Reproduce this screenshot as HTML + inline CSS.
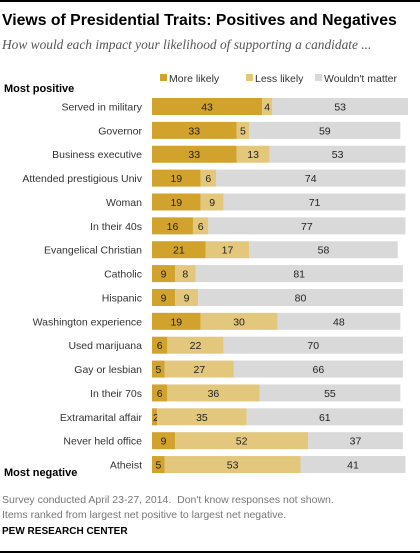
<!DOCTYPE html>
<html><head><meta charset="utf-8"><style>
body{margin:0;width:420px;height:554px;background:#fff;font-family:"Liberation Sans",Arial,sans-serif;position:relative;overflow:hidden}
.a{position:absolute;white-space:nowrap}
</style></head><body>
<div class="a" style="left:0;top:0;width:420px;height:2px;background:#000"></div>
<div class="a" style="left:2px;top:12px;font-size:15.8px;font-weight:bold;color:#000">Views of Presidential Traits: Positives and Negatives</div>
<div class="a" style="left:2px;top:37px;font-family:'Liberation Serif',serif;font-style:italic;font-size:13.4px;color:#555">How would each impact your likelihood of supporting a candidate ...</div>
<svg class="a" style="left:0;top:0" width="420" height="554" id="c"></svg>
<div class="a" style="left:2px;top:493px;font-size:10.5px;color:#777;line-height:15px">Survey conducted April 23-27, 2014.&nbsp; Don't know responses not shown.<br>Items ranked from largest net positive to largest net negative.</div>
<div class="a" style="left:2px;top:526px;font-size:10px;font-weight:bold;color:#000">PEW RESEARCH CENTER</div>
<div class="a" style="left:0;top:551px;width:420px;height:2px;background:#000"></div>
<script>
const categories=["Served in military","Governor","Business executive","Attended prestigious Univ","Woman","In their 40s","Evangelical Christian","Catholic","Hispanic","Washington experience","Used marijuana","Gay or lesbian","In their 70s","Extramarital affair","Never held office","Atheist"];
const moreLikely=[43,33,33,19,19,16,21,9,9,19,6,5,6,2,9,5];
const lessLikely=[4,5,13,6,9,6,17,8,9,30,22,27,36,35,52,53];
const noMatter=[53,59,53,74,71,77,58,81,80,48,70,66,55,61,37,41];
const seriesNames=["More likely","Less likely","Wouldn't matter"];
const colors=["#d1a22c","#e3c77d","#d9d9d9"];
const svg=document.getElementById('c');const NS="http://www.w3.org/2000/svg";
const x0=152,unit=2.56,y0=98,step=23.87,bh=17;
const xs=v=>v*unit, ys=i=>y0+i*step;
function el(t,a){const e=document.createElementNS(NS,t);for(const k in a)e.setAttribute(k,a[k]);svg.appendChild(e);return e;}
const lx=[160,246,315];
seriesNames.forEach((n,i)=>{
 const r=el('rect',{x:lx[i],y:74,width:7,height:7,fill:colors[i]});
 
 
 const t=el('text',{x:lx[i]+9,y:82,'font-size':10.5,fill:'#333'});t.textContent=n;
 
 
});
let t=el('text',{x:4,y:92,'font-size':11,'font-weight':'bold',fill:'#000'});t.textContent="Most positive";


t=el('text',{x:4,y:476,'font-size':11,'font-weight':'bold',fill:'#000'});t.textContent="Most negative";


categories.forEach((c,i)=>{
 const y=ys(i);
 const lab=el('text',{x:142,y:y+12.5,'font-size':10.5,fill:'#333','text-anchor':'end'});lab.textContent=c;
 
 
 let x=x0;
 [moreLikely[i],lessLikely[i],noMatter[i]].forEach((v,s)=>{
  const w=xs(v);
  const r=el('rect',{x:x,y:y,width:w,height:bh,fill:colors[s]});
  
  
  const tv=el('text',{x:(v<=3?x+1:x+w/2),y:y+12.5,'font-size':10.5,fill:'#222','text-anchor':v<=3?'start':'middle'});tv.textContent=v;
  
  
  x+=w;
 });
});
</script>
</body></html>
